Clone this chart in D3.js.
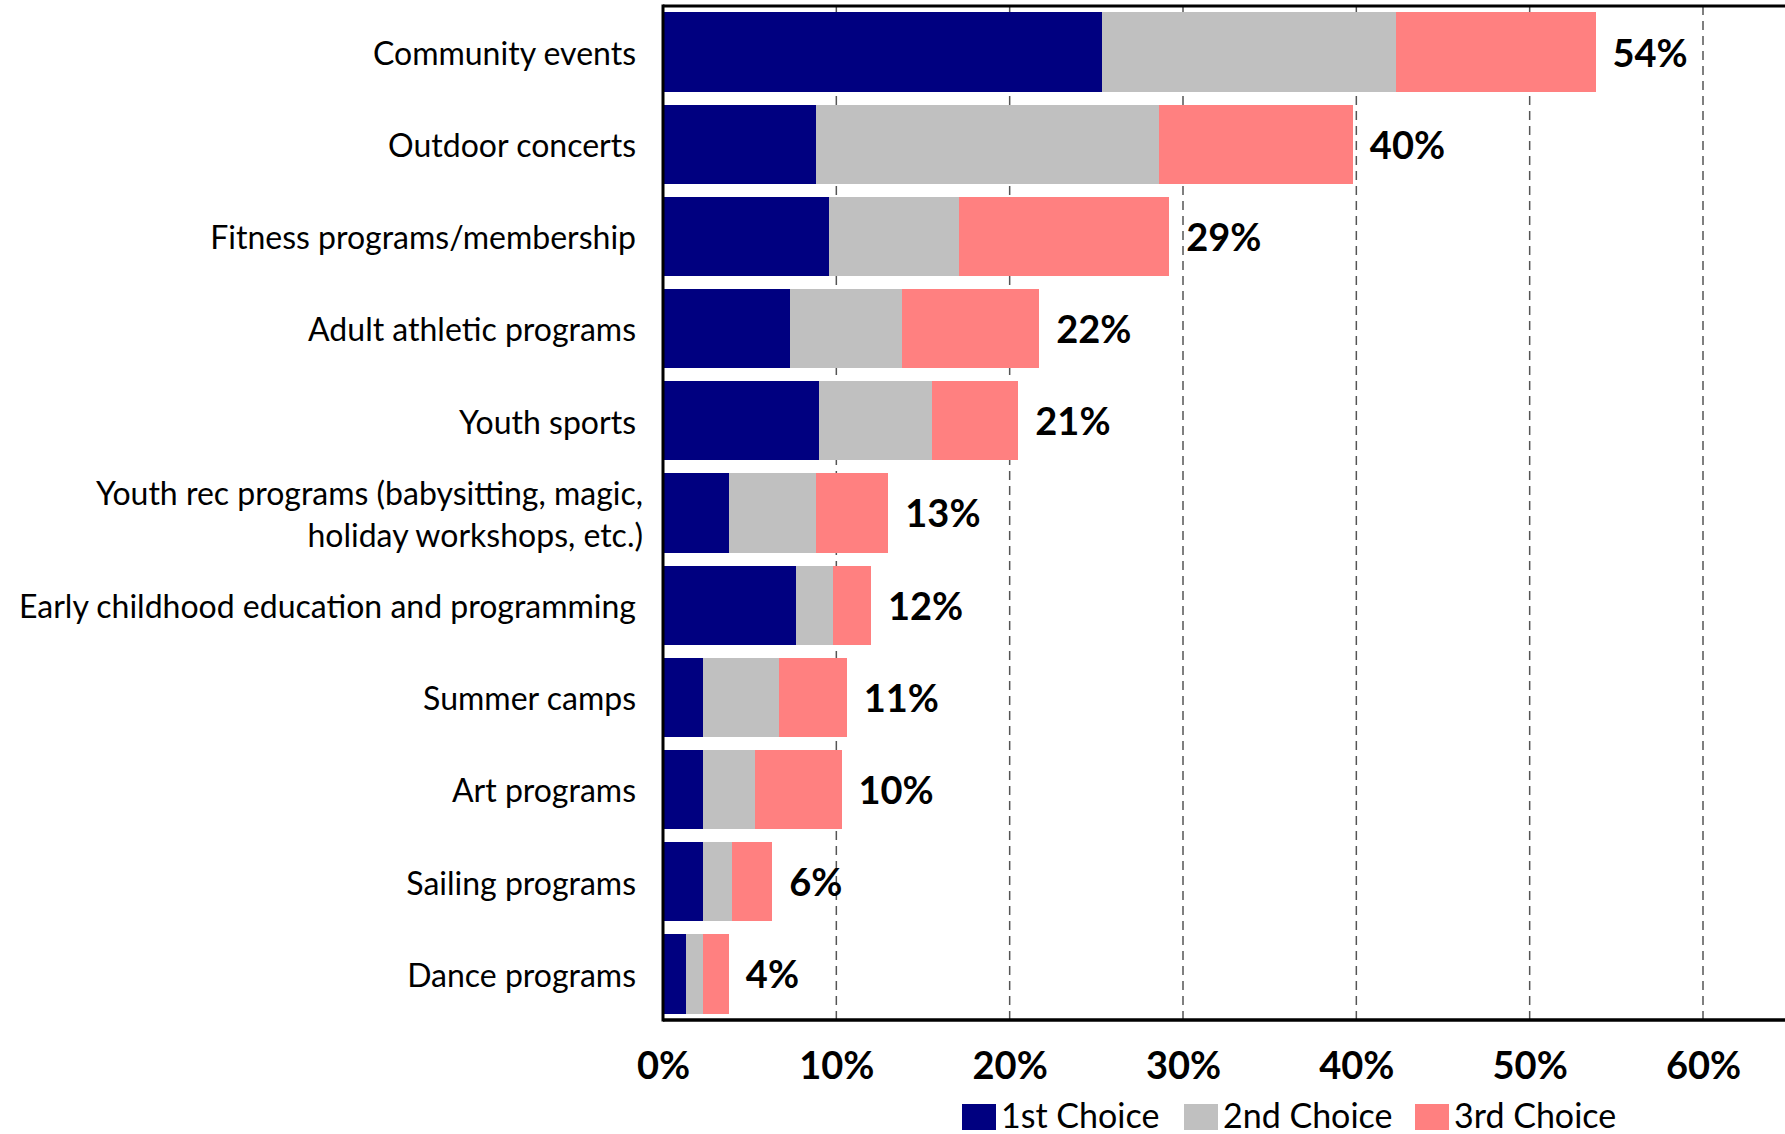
<!DOCTYPE html>
<html><head><meta charset="utf-8">
<script src="https://cdn.jsdelivr.net/npm/d3@7"></script>
<style>body{margin:0;background:#fff}svg{display:block}text{font-family:Lato,"Open Sans",sans-serif}</style>
</head><body>
<svg id="c" width="1785" height="1134"></svg>
<script>
const categories = ["Community events","Outdoor concerts","Fitness programs/membership","Adult athletic programs","Youth sports","Youth rec programs (babysitting, magic,|holiday workshops, etc.)","Early childhood education and programming","Summer camps","Art programs","Sailing programs","Dance programs"];
const first  = [25.3, 8.8, 9.6, 7.3, 9.0, 3.8, 7.7, 2.3, 2.3, 2.3, 1.3];
const second = [17.0, 19.8, 7.5, 6.5, 6.5, 5.0, 2.1, 4.4, 3.0, 1.7, 1.0];
const third  = [11.5, 11.2, 12.1, 7.9, 5.0, 4.2, 2.2, 3.9, 5.0, 2.3, 1.5];
const totalLabels = ["54%","40%","29%","22%","21%","13%","12%","11%","10%","6%","4%"];
const seriesNames = ["1st Choice","2nd Choice","3rd Choice"];
const tickValues = [0,10,20,30,40,50,60];
const tickLabels = ["0%","10%","20%","30%","40%","50%","60%"];
const colors = ["#000080","#C0C0C0","#FF8080"];

(function(){
const svg = d3.select("#c");
const W = 1785, pl = 663, pt = 6, pb = 1020;
const x = d3.scaleLinear().domain([0,60]).range([pl,1703]);
const y = d3.scaleBand().domain(categories).range([pt,pb]).paddingInner(0.14).paddingOuter(0.07);

const rows = categories.map((c,i)=>({cat:c, "1st Choice":first[i], "2nd Choice":second[i], "3rd Choice":third[i]}));
const stacked = d3.stack().keys(seriesNames)(rows);

// gridlines
svg.append("g").selectAll("line").data(tickValues.slice(1)).join("line")
  .attr("x1",d=>x(d)).attr("x2",d=>x(d)).attr("y1",pt).attr("y2",pb)
  .attr("stroke","#555").attr("stroke-width",1.5).attr("stroke-dasharray","9,6");

// bars
svg.append("g").selectAll("g").data(stacked).join("g").attr("fill",(d,i)=>colors[i])
  .selectAll("rect").data(d=>d).join("rect")
  .attr("x",d=>x(d[0])).attr("width",d=>x(d[1])-x(d[0]))
  .attr("y",d=>y(d.data.cat)).attr("height",y.bandwidth())
  .attr("shape-rendering","crispEdges");

// total labels
svg.append("g").selectAll("text").data(rows).join("text")
  .attr("x",(d,i)=>x(first[i]+second[i]+third[i])+17)
  .attr("y",d=>y(d.cat)+y.bandwidth()/2)
  .attr("dy","0.38em").attr("font-size",38).attr("font-weight",700).attr("fill","#000")
  .text((d,i)=>totalLabels[i]);

// frame
svg.append("line").attr("x1",pl).attr("x2",W).attr("y1",pt).attr("y2",pt).attr("stroke","#000").attr("stroke-width",3);
svg.append("line").attr("x1",pl).attr("x2",W).attr("y1",pb).attr("y2",pb).attr("stroke","#000").attr("stroke-width",3.5);
svg.append("line").attr("x1",pl).attr("x2",pl).attr("y1",pt-1.5).attr("y2",pb+1.5).attr("stroke","#000").attr("stroke-width",3);

// category labels
const cl = svg.append("g");
categories.forEach(c=>{
  const lines = c.split("|");
  const cy = y(c)+y.bandwidth()/2;
  const lh = 42;
  const xr = lines.length>1 ? 643 : 636;
  lines.forEach((ln,j)=>{
    cl.append("text").attr("x",xr).attr("y",cy+(j-(lines.length-1)/2)*lh)
      .attr("dy","0.4em").attr("text-anchor","end").attr("font-size",32).attr("fill","#000").text(ln);
  });
});

// x tick labels
const xAxis = d3.axisBottom(x).tickValues(tickValues).tickFormat((d,i)=>tickLabels[i]).tickSize(0).tickPadding(0);
const ax = svg.append("g").attr("transform",`translate(0,${pb})`).call(xAxis);
ax.select(".domain").remove();
ax.selectAll("text").attr("y",59).attr("dy","0").attr("font-size",38).attr("font-weight",700).attr("fill","#000")
  .attr("font-family","Lato, 'Open Sans', sans-serif");

// legend
const legX = [962,1184,1415];
const lg = svg.append("g");
seriesNames.forEach((s,i)=>{
  lg.append("rect").attr("x",legX[i]).attr("y",1104).attr("width",34).attr("height",26).attr("fill",colors[i]);
  lg.append("text").attr("x",legX[i]+39).attr("y",1128).attr("font-size",34).attr("fill","#000").text(s);
});
})();
</script>
</body></html>
